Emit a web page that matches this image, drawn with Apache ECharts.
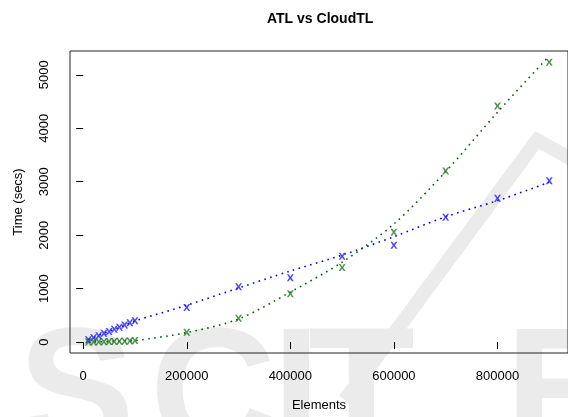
<!DOCTYPE html>
<html>
<head>
<meta charset="utf-8">
<script src="https://cdn.jsdelivr.net/npm/echarts@6/dist/echarts.min.js"></script>
<style>
  html, body { margin: 0; padding: 0; background: #fff; }
  #chart { width: 568px; height: 417px; }
</style>
</head>
<body>
<div id="chart"></div>
<script>
var elements = [10000, 20000, 30000, 40000, 50000, 60000, 70000, 80000, 90000, 100000,
                200000, 300000, 400000, 500000, 600000, 700000, 800000, 900000];
// measured times (blue / green markers)
var atlTimes = [43, 80, 118, 165, 198, 242, 280, 322, 360, 400,
                648, 1035, 1202, 1604, 1812, 2336, 2689, 3017];
var cloudTimes = [3, 4, 6, 8, 10, 12, 15, 18, 22, 28,
                  183, 446, 905, 1394, 2057, 3203, 4418, 5236];
// fitted curves (dotted lines)
var atlFit = [50, 88, 126, 164, 202, 240, 278, 317, 356, 396,
              690, 1012, 1330, 1628, 1972, 2345, 2645, 2990];
var cloudFit = [2, 4, 6, 8, 11, 14, 17, 20, 23, 27,
                178, 432, 935, 1495, 2210, 3190, 4300, 5355];
var xTicks = [0, 200000, 400000, 600000, 800000];
var yTicks = [0, 1000, 2000, 3000, 4000, 5000];

function pairs(xs, ys) {
  var out = [];
  for (var i = 0; i < xs.length; i++) out.push([xs[i], ys[i]]);
  return out;
}

var xMark = 'path://M0,0 L2.6,0 L5,3.4 L7.4,0 L10,0 L6.5,5 L10,10 L7.4,10 L5,6.6 L2.6,10 L0,10 L3.5,5 Z';
var font = 'Liberation Sans';
var wmColor = '#ebebeb';
var wmTop = 313;

var myChart = echarts.init(document.getElementById('chart'));

var option = {
  animation: false,
  backgroundColor: '#fff',
  textStyle: { fontFamily: font },
  title: {
    text: 'ATL vs CloudTL',
    left: 267,
    top: 12,
    padding: 0,
    textStyle: { fontFamily: font, fontSize: 14, fontWeight: 'bold', color: '#000' }
  },
  graphic: [
    { type: 'text', z: -10, left: 18, top: wmTop, style: { text: 'S', fontFamily: font, fontWeight: 'bold', fontSize: 175, fill: wmColor } },
    { type: 'text', z: -10, left: 150, top: wmTop, style: { text: 'C', fontFamily: font, fontWeight: 'bold', fontSize: 175, fill: wmColor } },
    { type: 'text', z: -10, left: 272, top: wmTop, style: { text: 'I', fontFamily: font, fontWeight: 'bold', fontSize: 175, fill: wmColor } },
    { type: 'text', z: -10, left: 308, top: wmTop, style: { text: 'T', fontFamily: font, fontWeight: 'bold', fontSize: 175, fill: wmColor } },
    { type: 'text', z: -10, left: 505, top: wmTop, style: { text: 'E', fontFamily: font, fontWeight: 'bold', fontSize: 175, fill: wmColor } },
    { type: 'polyline', z: -10, shape: { points: [[345, 400], [537, 140], [600, 175]] },
      style: { stroke: wmColor, lineWidth: 14, fill: null } }
  ],
  grid: {
    left: 70,
    top: 51,
    width: 502,
    height: 304,
    show: true,
    borderColor: '#222',
    borderWidth: 1,
    backgroundColor: 'transparent'
  },
  xAxis: {
    type: 'value',
    min: -25480,
    max: 936200,
    name: 'Elements',
    nameLocation: 'middle',
    nameGap: 46,
    nameTextStyle: { fontFamily: font, fontSize: 13, color: '#000' },
    axisLine: { show: false },
    splitLine: { show: false },
    axisTick: { show: true, length: 7, customValues: xTicks, lineStyle: { color: '#000' } },
    axisLabel: {
      customValues: xTicks,
      margin: 17,
      fontFamily: font,
      fontSize: 13,
      color: '#000',
      formatter: function (v) { return String(v); }
    }
  },
  yAxis: {
    type: 'value',
    min: -204,
    max: 5446,
    name: 'Time (secs)',
    nameLocation: 'middle',
    nameGap: 45,
    nameTextStyle: { fontFamily: font, fontSize: 13, color: '#000' },
    axisLine: { show: false },
    splitLine: { show: false },
    axisTick: { show: true, length: 7, customValues: yTicks, lineStyle: { color: '#000' } },
    axisLabel: {
      customValues: yTicks,
      rotate: 90,
      margin: 19,
      fontFamily: font,
      fontSize: 13,
      color: '#000',
      formatter: function (v) { return String(v); }
    }
  },
  series: [
    {
      name: 'ATL fit',
      type: 'line',
      data: pairs(elements, atlFit),
      showSymbol: false,
      smooth: 0.3,
      lineStyle: { color: '#0000ff', width: 1.6, type: [1.6, 4.4] },
      z: 2
    },
    {
      name: 'CloudTL fit',
      type: 'line',
      data: pairs(elements, cloudFit),
      showSymbol: false,
      smooth: 0.3,
      lineStyle: { color: '#006400', width: 1.6, type: [1.6, 4.4] },
      z: 2
    },
    {
      name: 'ATL',
      type: 'scatter',
      data: pairs(elements, atlTimes),
      symbol: xMark,
      symbolSize: [7, 7],
      itemStyle: { color: '#1a1aff' },
      z: 3
    },
    {
      name: 'CloudTL',
      type: 'scatter',
      data: pairs(elements, cloudTimes),
      symbol: xMark,
      symbolSize: [7, 7],
      itemStyle: { color: '#1f7a1f' },
      z: 3
    }
  ]
};

myChart.setOption(option);
</script>
</body>
</html>
